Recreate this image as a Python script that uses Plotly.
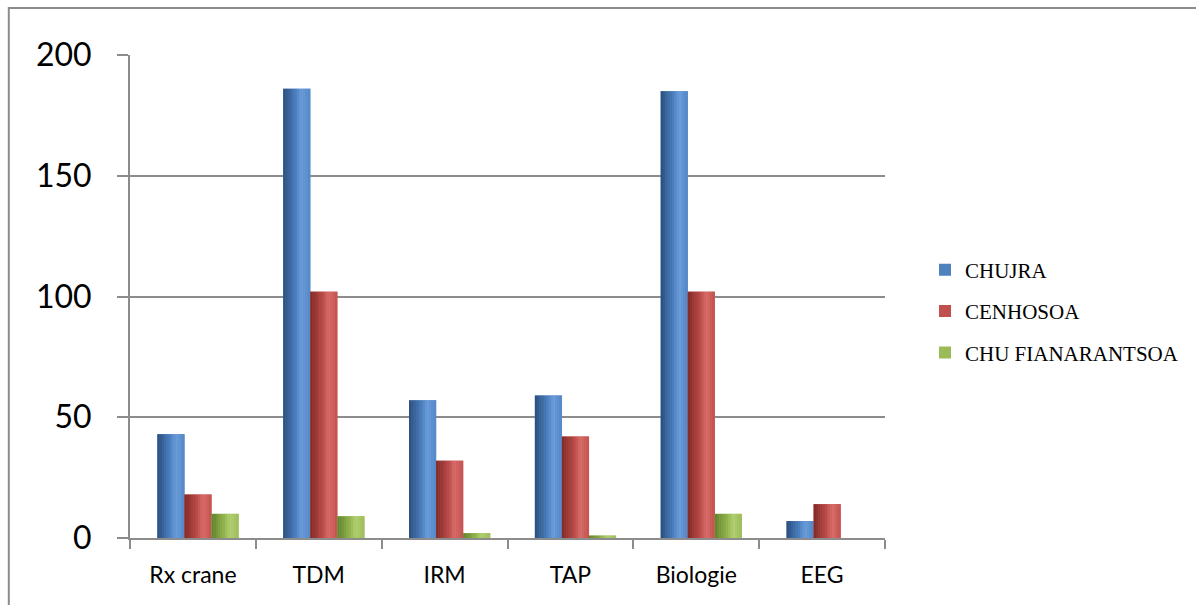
import numpy as np
import plotly.graph_objects as go

# Examens demandés par établissement
categories = ["Rx crane", "TDM", "IRM", "TAP", "Biologie", "EEG"]
series_names = ["CHUJRA", "CENHOSOA", "CHU FIANARANTSOA"]
chujra = [43, 186, 57, 59, 185, 7]
cenhosoa = [18, 102, 32, 42, 102, 14]
chu_fianarantsoa = [10, 9, 2, 1, 10, 0]
y_ticks = [0, 50, 100, 150, 200]

series_values = [chujra, cenhosoa, chu_fianarantsoa]

# Base colours and cylinder shading stops (dark edge -> highlight -> mid)
base_colors = ["#4F81BD", "#C0504D", "#9BBB59"]
shade_stops = [
    ["#2a4d7a", "#4a7dbd", "#6c9edb", "#5487c8"],
    ["#7f2a28", "#b84a47", "#d96d6a", "#c4524f"],
    ["#62802e", "#8fb24c", "#b2d071", "#9dbd5b"],
]
stop_pos = [0.0, 0.45, 0.68, 1.0]

# Layout geometry (pixels)
W, H = 1196, 605
ML, MR, MT, MB = 130, 306, 55, 67

bar_w = 0.215          # width of one cylinder in category units
group_shift = 0.04     # groups sit a little right of the category centre
n_strips = 12


def hex_to_rgb(h):
    h = h.lstrip("#")
    return np.array([int(h[i:i + 2], 16) for i in (0, 2, 4)], dtype=float)


def shade(stops, t):
    rgb = np.array([hex_to_rgb(c) for c in stops])
    out = [np.interp(t, stop_pos, rgb[:, k]) for k in range(3)]
    return "rgb({:.0f},{:.0f},{:.0f})".format(*out)


fig = go.Figure()

for i, (name, vals) in enumerate(zip(series_names, series_values)):
    left = -1.5 * bar_w + i * bar_w + group_shift
    # full-width bar carries the legend entry
    fig.add_trace(go.Bar(
        x=categories, y=vals, name=name,
        marker=dict(color=base_colors[i], line=dict(width=0)),
        offset=left, width=bar_w,
        legendgroup=name, showlegend=True, hoverinfo="x+y+name",
    ))
    # vertical strips give the cylinder its rounded shading
    sw = bar_w / n_strips
    for s in range(n_strips):
        t = (s + 0.5) / n_strips
        fig.add_trace(go.Bar(
            x=categories, y=vals,
            marker=dict(color=shade(shade_stops[i], t), line=dict(width=0)),
            offset=left + s * sw, width=sw * 1.05,
            legendgroup=name, showlegend=False, hoverinfo="skip",
        ))

# outer frame of the chart area
pw, ph = W - ML - MR, H - MT - MB
fx0 = (8 - ML) / pw
fy1 = (H - MB - 8) / ph
fig.add_shape(type="rect", xref="paper", yref="paper",
              x0=fx0, x1=(W + 20 - ML) / pw, y0=-(MB + 20) / ph, y1=fy1,
              line=dict(color="#8c8c8c", width=2), fillcolor="rgba(0,0,0,0)",
              layer="below")

fig.update_layout(
    width=W, height=H,
    margin=dict(l=ML, r=MR, t=MT, b=MB, pad=0),
    paper_bgcolor="white", plot_bgcolor="white",
    barmode="overlay",
    font=dict(family="Lato, Open Sans, sans-serif", color="#000000"),
    legend=dict(
        x=1.053, xanchor="left", y=0.597, yanchor="top",
        font=dict(family="Liberation Serif, Times New Roman, serif", size=21, color="#000000"),
        traceorder="grouped", tracegroupgap=11, itemwidth=30,
        bgcolor="rgba(0,0,0,0)", itemclick=False,
    ),
    showlegend=True,
)

fig.update_xaxes(
    type="category", range=[-0.5, len(categories) - 0.5],
    showgrid=False, showline=True, linecolor="#8c8c8c", linewidth=2,
    ticks="outside", tickson="boundaries", ticklen=9, tickcolor="#8c8c8c", tickwidth=2,
    tickfont=dict(family="Lato, Open Sans, sans-serif", size=23, color="#000000"),
    ticklabelstandoff=15, zeroline=False,
)
fig.update_yaxes(
    range=[0, 200], tickvals=y_ticks,
    showgrid=True, gridcolor="#8c8c8c", gridwidth=1.5,
    showline=True, linecolor="#8c8c8c", linewidth=2,
    ticks="outside", ticklen=11, tickcolor="#8c8c8c", tickwidth=2,
    tickfont=dict(family="Lato, Open Sans, sans-serif", size=32, color="#000000"),
    ticklabelstandoff=19, zeroline=False,
)

fig.write_html("out.html")
